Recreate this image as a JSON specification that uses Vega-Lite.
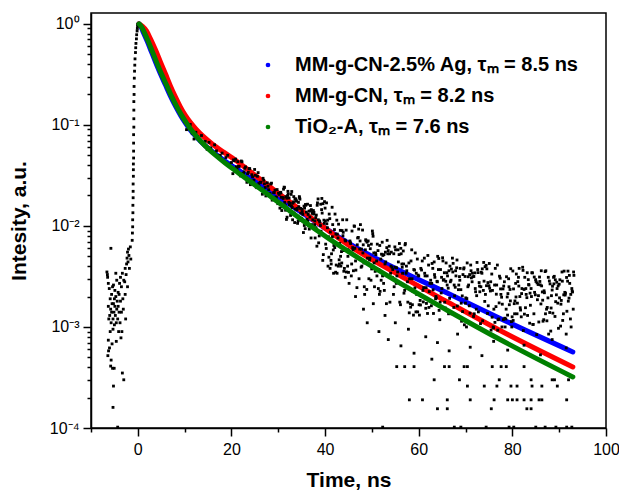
{
"$schema": "https://vega.github.io/schema/vega-lite/v6.json",
"width": 515, "height": 415,
"autosize": {"type": "none"},
"padding": {"left": 91, "top": 13, "right": 13, "bottom": 65},
"background": "white",
"config": {
 "view": {"stroke": "black", "strokeWidth": 1.5},
 "axis": {"domainColor": "black", "domainWidth": 1.5, "tickColor": "black", "tickWidth": 1.5, "labelColor": "black", "titleColor": "black", "labelFont": "Liberation Sans", "labelFontSize": 16, "titleFont": "Liberation Sans", "titleFontSize": 21, "titleFontWeight": "bold", "grid": false, "labelOverlap": false, "labelFlush": false},
 "legend": {"orient": "none", "legendX": 167, "legendY": 42, "padding": 0, "symbolType": "circle", "symbolSize": 22, "labelFont": "Liberation Sans", "labelFontSize": 20, "labelFontWeight": "bold", "labelColor": "black", "rowPadding": 11, "labelOffset": 17, "labelLimit": 500}
},
"datasets": {
 "fits": [
  {"k":"b","t":0.255,"v":1.0},{"k":"b","t":0.681,"v":0.934},{"k":"b","t":1.213,"v":0.815},{"k":"b","t":2.064,"v":0.663},{"k":"b","t":2.915,"v":0.528},{"k":"b","t":3.766,"v":0.4205},{"k":"b","t":4.83,"v":0.32},{"k":"b","t":5.894,"v":0.249},{"k":"b","t":6.957,"v":0.1937},{"k":"b","t":8.021,"v":0.1542},{"k":"b","t":9.085,"v":0.1256},{"k":"b","t":10.149,"v":0.1047},{"k":"b","t":11.213,"v":0.0892},{"k":"b","t":12.489,"v":0.076},{"k":"b","t":14.191,"v":0.0634},{"k":"b","t":16.319,"v":0.0528},{"k":"b","t":18.447,"v":0.0445},{"k":"b","t":20.787,"v":0.0375},{"k":"b","t":23.979,"v":0.0299},{"k":"b","t":27.17,"v":0.0238},{"k":"b","t":30.362,"v":0.0189},{"k":"b","t":36.745,"v":0.012},{"k":"b","t":45.255,"v":0.00663},{"k":"b","t":53.766,"v":0.00406},{"k":"b","t":66.532,"v":0.00212},{"k":"b","t":77.17,"v":0.001228},{"k":"b","t":92.915,"v":0.000566},
  {"k":"r","t":0.255,"v":1.0},{"k":"r","t":1.0,"v":0.944},{"k":"r","t":1.851,"v":0.852},{"k":"r","t":2.702,"v":0.71},{"k":"r","t":3.766,"v":0.553},{"k":"r","t":4.83,"v":0.4205},{"k":"r","t":5.894,"v":0.32},{"k":"r","t":6.957,"v":0.243},{"k":"r","t":8.021,"v":0.1893},{"k":"r","t":9.085,"v":0.1507},{"k":"r","t":10.149,"v":0.1242},{"k":"r","t":11.213,"v":0.1059},{"k":"r","t":12.489,"v":0.0902},{"k":"r","t":13.979,"v":0.0769},{"k":"r","t":15.894,"v":0.0648},{"k":"r","t":18.234,"v":0.054},{"k":"r","t":20.787,"v":0.045},{"k":"r","t":23.979,"v":0.0346},{"k":"r","t":27.17,"v":0.0266},{"k":"r","t":30.362,"v":0.0205},{"k":"r","t":36.745,"v":0.01228},{"k":"r","t":45.255,"v":0.00634},{"k":"r","t":55.894,"v":0.00324},{"k":"r","t":66.532,"v":0.00173},{"k":"r","t":77.17,"v":0.000934},{"k":"r","t":92.915,"v":0.000402},
  {"k":"g","t":0.255,"v":1.0},{"k":"g","t":0.787,"v":0.934},{"k":"g","t":1.426,"v":0.815},{"k":"g","t":2.277,"v":0.663},{"k":"g","t":3.128,"v":0.528},{"k":"g","t":3.979,"v":0.4205},{"k":"g","t":5.043,"v":0.32},{"k":"g","t":6.106,"v":0.249},{"k":"g","t":7.17,"v":0.1937},{"k":"g","t":8.234,"v":0.1542},{"k":"g","t":9.298,"v":0.1256},{"k":"g","t":10.362,"v":0.1047},{"k":"g","t":11.426,"v":0.0892},{"k":"g","t":12.702,"v":0.0752},{"k":"g","t":14.404,"v":0.062},{"k":"g","t":16.532,"v":0.0505},{"k":"g","t":18.66,"v":0.042},{"k":"g","t":20.787,"v":0.0354},{"k":"g","t":23.979,"v":0.0276},{"k":"g","t":27.17,"v":0.0215},{"k":"g","t":30.362,"v":0.0167},{"k":"g","t":36.745,"v":0.0101},{"k":"g","t":45.255,"v":0.00546},{"k":"g","t":55.894,"v":0.00273},{"k":"g","t":66.532,"v":0.001424},{"k":"g","t":77.17,"v":0.00076},{"k":"g","t":92.915,"v":0.00032}
 ],
 "pts": [
  {"t":-1.2,"v":0.0072},{"t":-1.15,"v":0.0085},{"t":-1.1,"v":0.0098},{"t":-1.1,"v":0.0115},{"t":-1.05,"v":0.0135},{"t":-1.05,"v":0.016},{"t":-1.0,"v":0.019},{"t":-1.0,"v":0.022},{"t":-1.0,"v":0.026},{"t":-0.95,"v":0.031},{"t":-0.95,"v":0.036},{"t":-0.95,"v":0.041},{"t":-0.9,"v":0.047},{"t":-0.9,"v":0.055},{"t":-0.9,"v":0.066},{"t":-0.9,"v":0.08},{"t":-0.85,"v":0.095},{"t":-0.85,"v":0.115},{"t":-0.85,"v":0.14},{"t":-0.85,"v":0.17},{"t":-0.8,"v":0.2},{"t":-0.8,"v":0.24},{"t":-0.75,"v":0.29},{"t":-0.7,"v":0.34},{"t":-0.65,"v":0.39},{"t":-0.6,"v":0.45},{"t":-0.5,"v":0.52},{"t":-0.45,"v":0.58},{"t":-0.4,"v":0.64},{"t":-0.3,"v":0.71},{"t":-0.25,"v":0.78},{"t":-0.15,"v":0.85},{"t":-0.1,"v":0.9},{"t":-0.05,"v":0.95},{"t":0.0,"v":0.99},
  {"t":-6.6,"v":0.0035},{"t":-6.5,"v":0.0033},{"t":-6.45,"v":0.0031},{"t":-6.3,"v":0.0027},{"t":-6.3,"v":0.0016},{"t":-6.2,"v":0.0012},{"t":-6.25,"v":0.00058},{"t":-6.1,"v":0.0024},{"t":-6.0,"v":0.0013},{"t":-6.05,"v":0.00062},{"t":-5.9,"v":0.0019},{"t":-5.9,"v":0.0009},{"t":-5.75,"v":0.006},{"t":-5.8,"v":0.0015},{"t":-5.7,"v":0.00047},{"t":-5.7,"v":0.0011},{"t":-5.6,"v":0.0021},{"t":-5.6,"v":0.0014},{"t":-5.5,"v":0.0017},{"t":-5.5,"v":0.00068},{"t":-5.3,"v":0.00016},{"t":-5.4,"v":0.0025},{"t":-5.3,"v":0.00095},{"t":-5.3,"v":0.0012},{"t":-5.2,"v":0.0017},{"t":-5.2,"v":0.0026},{"t":-5.1,"v":0.0014},{"t":-5.05,"v":0.00039},{"t":-5.0,"v":0.0019},{"t":-5.0,"v":0.00105},{"t":-4.9,"v":0.0023},{"t":-4.9,"v":0.0016},{"t":-4.8,"v":0.0013},{"t":-4.3,"v":0.000102},{"t":-4.7,"v":0.0034},{"t":-4.7,"v":0.002},{"t":-4.6,"v":0.0011},{"t":-4.6,"v":0.00072},{"t":-4.5,"v":0.0015},{"t":-4.5,"v":0.0029},{"t":-4.4,"v":0.0018},{"t":-4.3,"v":0.0012},{"t":-5.2,"v":0.00026},{"t":-4.2,"v":0.0022},{"t":-4.2,"v":0.0016},{"t":-4.1,"v":0.0009},{"t":-4.0,"v":0.0021},{"t":-4.0,"v":0.0014},{"t":-3.9,"v":0.0027},{"t":-3.8,"v":0.0011},{"t":-3.7,"v":0.0031},{"t":-3.7,"v":0.0018},{"t":-3.6,"v":0.00078},{"t":-3.5,"v":0.0025},{"t":-3.5,"v":0.0014},{"t":-3.4,"v":0.0009},{"t":-3.3,"v":0.0034},{"t":-3.2,"v":0.0019},{"t":-3.1,"v":0.0015},{"t":-3.0,"v":0.0029},{"t":-3.3,"v":0.00035},{"t":-3.0,"v":0.0003},{"t":-2.8,"v":0.0028},{"t":-2.7,"v":0.0038},{"t":-2.7,"v":0.0021},{"t":-2.6,"v":0.0012},{"t":-2.5,"v":0.0033},{"t":-2.4,"v":0.0042},{"t":-2.3,"v":0.0048},{"t":-2.2,"v":0.0025},{"t":-2.2,"v":0.0055},{"t":-2.1,"v":0.0044},{"t":-2.0,"v":0.0059},{"t":-1.9,"v":0.0051},{"t":-1.8,"v":0.0038},{"t":-1.6,"v":0.0062},{"t":-1.5,"v":0.0047},{"t":-6.4,"v":0.00052},{"t":-6.3,"v":0.00074},{"t":-5.8,"v":0.00041},{"t":-5.4,"v":0.00039},
  {"t":0.1,"v":0.99},{"t":0.3,"v":1.0},{"t":0.5,"v":0.98},{"t":0.8,"v":0.935},{"t":1.1,"v":0.875},{"t":1.4,"v":0.815},{"t":1.7,"v":0.76},{"t":2.0,"v":0.71},{"t":2.4,"v":0.65},{"t":2.8,"v":0.575},{"t":3.2,"v":0.515},{"t":3.6,"v":0.465},{"t":4.0,"v":0.42},{"t":4.4,"v":0.38},{"t":4.8,"v":0.34},{"t":5.2,"v":0.305},{"t":5.6,"v":0.28},{"t":6.0,"v":0.255},{"t":6.5,"v":0.227},{"t":7.0,"v":0.203},{"t":7.5,"v":0.182},{"t":8.0,"v":0.162},{"t":8.5,"v":0.147},{"t":9.0,"v":0.133},{"t":9.5,"v":0.122},
  {"t":10.0,"v":0.1074},{"t":10.4,"v":0.0897},{"t":10.8,"v":0.0946},{"t":11.2,"v":0.1009},{"t":11.6,"v":0.0828},{"t":12.0,"v":0.0724},{"t":12.4,"v":0.0845},{"t":12.8,"v":0.0769},{"t":13.2,"v":0.0697},{"t":13.6,"v":0.0785},{"t":14.0,"v":0.0673},{"t":14.4,"v":0.0687},{"t":14.8,"v":0.0573},{"t":15.2,"v":0.0671},{"t":15.6,"v":0.0592},{"t":16.0,"v":0.0533},{"t":16.4,"v":0.0635},{"t":16.8,"v":0.0553},{"t":17.2,"v":0.0499},{"t":17.6,"v":0.05},{"t":18.0,"v":0.0526},{"t":18.4,"v":0.0432},{"t":18.8,"v":0.0475},{"t":19.2,"v":0.05},{"t":19.6,"v":0.0408},{"t":20.0,"v":0.0424},
  {"t":20.3,"v":0.0329},{"t":20.6,"v":0.0442},{"t":20.9,"v":0.0459},{"t":21.2,"v":0.0368},{"t":21.5,"v":0.0389},{"t":21.8,"v":0.0321},{"t":22.1,"v":0.0439},{"t":22.4,"v":0.0329},{"t":22.7,"v":0.0343},{"t":23.0,"v":0.0384},{"t":23.3,"v":0.027},{"t":23.6,"v":0.034},{"t":23.9,"v":0.0369},{"t":24.2,"v":0.0275},{"t":24.5,"v":0.0306},{"t":24.8,"v":0.0283},{"t":25.1,"v":0.0317},{"t":25.4,"v":0.0239},{"t":25.7,"v":0.0337},{"t":26.0,"v":0.0243},{"t":26.3,"v":0.0271},{"t":26.6,"v":0.0206},{"t":26.9,"v":0.0283},{"t":27.2,"v":0.024},{"t":27.5,"v":0.0208},{"t":27.8,"v":0.0247},{"t":28.1,"v":0.0209},{"t":28.4,"v":0.026},{"t":28.7,"v":0.018},{"t":29.0,"v":0.0213},{"t":29.3,"v":0.0226},{"t":29.6,"v":0.0192},{"t":29.9,"v":0.0166},{"t":30.2,"v":0.0205},
  {"t":20.45,"v":0.045},{"t":20.75,"v":0.0348},{"t":21.05,"v":0.0385},{"t":21.35,"v":0.0433},{"t":21.65,"v":0.0387},{"t":21.95,"v":0.0312},{"t":22.25,"v":0.0431},{"t":22.55,"v":0.0331},{"t":22.85,"v":0.0372},{"t":23.15,"v":0.0299},{"t":23.45,"v":0.0329},{"t":23.75,"v":0.0369},{"t":24.05,"v":0.0256},{"t":24.35,"v":0.0321},{"t":24.65,"v":0.0275},{"t":24.95,"v":0.0362},{"t":25.25,"v":0.0244},{"t":25.55,"v":0.031},{"t":25.85,"v":0.0263},{"t":26.15,"v":0.027},{"t":26.45,"v":0.0232},{"t":26.75,"v":0.0296},{"t":27.05,"v":0.0261},{"t":27.35,"v":0.0198},{"t":27.65,"v":0.0267},{"t":27.95,"v":0.0228},{"t":28.25,"v":0.0208},{"t":28.55,"v":0.0265},{"t":28.85,"v":0.0185},{"t":29.15,"v":0.0214},{"t":29.45,"v":0.0193},{"t":29.75,"v":0.0229},{"t":30.05,"v":0.0211},{"t":30.35,"v":0.015},
  {"t":30.5,"v":0.0215},{"t":30.75,"v":0.0142},{"t":31.0,"v":0.0191},{"t":31.25,"v":0.0242},{"t":31.5,"v":0.0159},{"t":31.75,"v":0.0116},{"t":32.0,"v":0.02},{"t":32.25,"v":0.0171},{"t":32.5,"v":0.0138},{"t":32.75,"v":0.0205},{"t":33.0,"v":0.0152},{"t":33.25,"v":0.0173},{"t":33.5,"v":0.0108},{"t":33.75,"v":0.0185},{"t":34.0,"v":0.0144},{"t":34.25,"v":0.0112},{"t":34.5,"v":0.0195},{"t":34.75,"v":0.0149},{"t":35.0,"v":0.0119},{"t":35.25,"v":0.013},{"t":35.5,"v":0.0157},{"t":35.75,"v":0.0094},{"t":36.0,"v":0.0137},{"t":36.25,"v":0.0164},{"t":36.5,"v":0.01},{"t":36.75,"v":0.01225},{"t":37.0,"v":0.0076},{"t":37.25,"v":0.0133},{"t":37.5,"v":0.0142},{"t":37.75,"v":0.0103},{"t":38.0,"v":0.0121},{"t":38.25,"v":0.0063},{"t":38.5,"v":0.0185},{"t":38.75,"v":0.00796},{"t":39.0,"v":0.0101},{"t":39.25,"v":0.0145},{"t":39.5,"v":0.00456},{"t":39.75,"v":0.0114},{"t":40.0,"v":0.015},{"t":40.25,"v":0.00598},{"t":40.5,"v":0.0096},{"t":40.75,"v":0.0078},{"t":41.0,"v":0.0118},{"t":41.25,"v":0.00456},{"t":41.5,"v":0.0153},{"t":41.75,"v":0.00578},{"t":42.0,"v":0.0092},{"t":42.25,"v":0.00348},{"t":42.5,"v":0.0114},{"t":42.75,"v":0.0076},{"t":43.0,"v":0.00462},{"t":43.25,"v":0.00904},{"t":43.5,"v":0.00557},{"t":43.75,"v":0.0115},{"t":44.0,"v":0.00356},{"t":44.25,"v":0.00725},{"t":44.5,"v":0.00908},{"t":44.75,"v":0.00586},{"t":45.0,"v":0.00347},
  {"t":30.625,"v":0.0192},{"t":30.875,"v":0.0155},{"t":31.125,"v":0.0231},{"t":31.375,"v":0.0171},{"t":31.625,"v":0.0195},{"t":31.875,"v":0.0122},{"t":32.125,"v":0.0208},{"t":32.375,"v":0.0162},{"t":32.625,"v":0.0127},{"t":32.875,"v":0.0219},{"t":33.125,"v":0.0168},{"t":33.375,"v":0.0134},{"t":33.625,"v":0.0147},{"t":33.875,"v":0.0177},{"t":34.125,"v":0.0106},{"t":34.375,"v":0.0155},{"t":34.625,"v":0.0184},{"t":34.875,"v":0.0113},{"t":35.125,"v":0.0138},{"t":35.375,"v":0.0086},{"t":35.625,"v":0.015},{"t":35.875,"v":0.016},{"t":36.125,"v":0.0116},{"t":36.375,"v":0.013},{"t":36.625,"v":0.0093},{"t":36.875,"v":0.0159},{"t":37.125,"v":0.0103},{"t":37.375,"v":0.0115},{"t":37.625,"v":0.0136},{"t":37.875,"v":0.0076},{"t":38.125,"v":0.0128},{"t":38.375,"v":0.0169},{"t":38.625,"v":0.0068},{"t":38.875,"v":0.0109},{"t":39.125,"v":0.00886},{"t":39.375,"v":0.0134},{"t":39.625,"v":0.0052},{"t":39.875,"v":0.0174},{"t":40.125,"v":0.0066},{"t":40.375,"v":0.0105},{"t":40.625,"v":0.004},{"t":40.875,"v":0.0131},{"t":41.125,"v":0.0087},{"t":41.375,"v":0.0053},{"t":41.625,"v":0.0103},{"t":41.875,"v":0.0064},{"t":42.125,"v":0.0131},{"t":42.375,"v":0.0041},{"t":42.625,"v":0.0083},{"t":42.875,"v":0.0104},{"t":43.125,"v":0.0067},{"t":43.375,"v":0.004},{"t":43.625,"v":0.009},{"t":43.875,"v":0.00865},{"t":44.125,"v":0.0038},{"t":44.375,"v":0.0071},{"t":44.625,"v":0.0115},{"t":44.875,"v":0.005},{"t":45.125,"v":0.0027},
  {"t":30.56,"v":0.0212},{"t":30.81,"v":0.0162},{"t":31.06,"v":0.0187},{"t":31.31,"v":0.024},{"t":31.56,"v":0.0143},{"t":31.81,"v":0.0188},{"t":32.06,"v":0.022},{"t":32.31,"v":0.0189},{"t":32.56,"v":0.0168},{"t":32.81,"v":0.0158},{"t":33.06,"v":0.0115},{"t":33.31,"v":0.0195},{"t":33.56,"v":0.0185},{"t":33.81,"v":0.0176},{"t":34.06,"v":0.0149},{"t":34.31,"v":0.0171},{"t":34.56,"v":0.019},{"t":34.81,"v":0.0134},{"t":35.06,"v":0.0146},{"t":35.31,"v":0.011},{"t":35.56,"v":0.0101},{"t":35.81,"v":0.0163},{"t":36.06,"v":0.0108},{"t":36.31,"v":0.0111},{"t":36.56,"v":0.014},{"t":36.81,"v":0.0141},{"t":37.06,"v":0.0145},{"t":37.31,"v":0.0138},{"t":37.56,"v":0.0131},{"t":37.81,"v":0.0112},{"t":38.06,"v":0.0096},{"t":38.31,"v":0.016},{"t":38.56,"v":0.0115},{"t":38.81,"v":0.0112},{"t":39.06,"v":0.0164},{"t":39.31,"v":0.0187},{"t":39.56,"v":0.0166},{"t":39.81,"v":0.0106},{"t":40.06,"v":0.0112},{"t":40.31,"v":0.0169},{"t":40.56,"v":0.0114},{"t":40.81,"v":0.0049},{"t":41.06,"v":0.0038},{"t":41.31,"v":0.0042},{"t":41.56,"v":0.0078},{"t":41.81,"v":0.0034},{"t":42.06,"v":0.0061},{"t":42.31,"v":0.0083},{"t":42.56,"v":0.0034},{"t":42.81,"v":0.004},{"t":43.06,"v":0.0042},{"t":43.31,"v":0.005},{"t":43.56,"v":0.0043},{"t":43.81,"v":0.008},{"t":44.06,"v":0.0057},{"t":44.31,"v":0.0031},{"t":44.56,"v":0.0035},{"t":44.81,"v":0.004},{"t":45.06,"v":0.0057},
  {"t":45.3,"v":7.1e-3},{"t":45.6,"v":3.2e-3},{"t":45.9,"v":6.1e-3},{"t":46.2,"v":1.0e-2},{"t":46.5,"v":4.5e-3},{"t":46.8,"v":2.45e-3},{"t":47.1,"v":7.7e-3},{"t":47.4,"v":5.9e-3},{"t":47.7,"v":3.9e-3},{"t":48.0,"v":9.1e-3},
  {"t":45.45,"v":6.7e-3},{"t":45.75,"v":8.9e-3},{"t":46.05,"v":3.6e-3},{"t":46.35,"v":6.0e-3},{"t":46.65,"v":5.0e-3},{"t":46.95,"v":7.6e-3},{"t":47.25,"v":3.0e-3},{"t":47.55,"v":1.03e-2},{"t":47.85,"v":4.0e-3},{"t":48.15,"v":6.5e-3},
  {"t":48.3,"v":4.3e-3},{"t":48.6,"v":5.8e-3},{"t":48.9,"v":2.35e-3},{"t":49.2,"v":7.1e-3},{"t":49.5,"v":4.6e-3},{"t":49.8,"v":2.9e-3},{"t":50.1,"v":8.9e-3},{"t":50.4,"v":5.4e-3},{"t":50.7,"v":3.55e-3},{"t":51.0,"v":4.5e-3},
  {"t":48.45,"v":2.1e-3},{"t":48.75,"v":7.1e-3},{"t":49.05,"v":4.8e-3},{"t":49.35,"v":3.0e-3},{"t":49.65,"v":5.95e-3},{"t":49.95,"v":3.75e-3},{"t":50.25,"v":7.9e-3},{"t":50.55,"v":2.5e-3},{"t":50.85,"v":5.2e-3},{"t":51.15,"v":6.6e-3},
  {"t":51.3,"v":5.7e-3},{"t":51.6,"v":2.1e-3},{"t":51.9,"v":4.7e-3},{"t":52.2,"v":6.9e-3},{"t":52.5,"v":2.7e-3},{"t":52.8,"v":4.2e-3},{"t":53.1,"v":1.7e-3},{"t":53.4,"v":5.3e-3},{"t":53.7,"v":6.3e-3},{"t":54.0,"v":3.4e-3},
  {"t":51.45,"v":3.7e-3},{"t":51.75,"v":2.25e-3},{"t":52.05,"v":5.25e-3},{"t":52.35,"v":5.1e-3},{"t":52.65,"v":2.3e-3},{"t":52.95,"v":4.4e-3},{"t":53.25,"v":7.2e-3},{"t":53.55,"v":3.2e-3},{"t":53.85,"v":1.76e-3},{"t":54.15,"v":5.5e-3},
  {"t":54.3,"v":3.9e-3},{"t":54.6,"v":2.1e-3},{"t":54.9,"v":6.2e-3},{"t":55.2,"v":2.7e-3},{"t":55.5,"v":3.5e-3},{"t":55.8,"v":5.2e-3},{"t":56.1,"v":1.66e-3},{"t":56.4,"v":4.2e-3},{"t":56.7,"v":5.65e-3},{"t":57.0,"v":2.3e-3},
  {"t":54.45,"v":3.7e-3},{"t":54.75,"v":2.5e-3},{"t":55.05,"v":5.8e-3},{"t":55.35,"v":3.2e-3},{"t":55.65,"v":4.4e-3},{"t":55.95,"v":1.76e-3},{"t":56.25,"v":5.3e-3},{"t":56.55,"v":3.4e-3},{"t":56.85,"v":2.16e-3},{"t":57.15,"v":6.7e-3},
  {"t":57.3,"v":3.4e-3},{"t":57.6,"v":2.8e-3},{"t":57.9,"v":4.3e-3},{"t":58.2,"v":1.7e-3},{"t":58.5,"v":5.8e-3},{"t":58.8,"v":2.24e-3},{"t":59.1,"v":3.65e-3},{"t":59.4,"v":1.41e-3},{"t":59.7,"v":4.7e-3},{"t":60.0,"v":3.2e-3},
  {"t":57.45,"v":3.6e-3},{"t":57.75,"v":2.4e-3},{"t":58.05,"v":3.0e-3},{"t":58.35,"v":4.5e-3},{"t":58.65,"v":1.66e-3},{"t":58.95,"v":3.7e-3},{"t":59.25,"v":5.4e-3},{"t":59.55,"v":2.1e-3},{"t":59.85,"v":3.26e-3},{"t":60.15,"v":1.31e-3},
  {"t":60.3,"v":1.83e-3},{"t":60.6,"v":3.66e-3},{"t":60.9,"v":2.3e-3},{"t":61.2,"v":4.8e-3},{"t":61.5,"v":1.53e-3},{"t":61.8,"v":3.2e-3},{"t":62.1,"v":4.1e-3},{"t":62.4,"v":2.7e-3},{"t":62.7,"v":1.62e-3},{"t":63.0,"v":3.8e-3},
  {"t":60.45,"v":3.8e-3},{"t":60.75,"v":4.5e-3},{"t":61.05,"v":2.45e-3},{"t":61.35,"v":3.2e-3},{"t":61.65,"v":1.71e-3},{"t":61.95,"v":5.1e-3},{"t":62.25,"v":2.24e-3},{"t":62.55,"v":2.9e-3},{"t":62.85,"v":4.25e-3},{"t":63.15,"v":1.36e-3},
  {"t":63.3,"v":4.4e-3},{"t":63.6,"v":1.9e-3},{"t":63.9,"v":2.83e-3},{"t":64.2,"v":3.7e-3},{"t":64.5,"v":1.18e-3},{"t":64.8,"v":2.17e-3},{"t":65.1,"v":4.84e-3},{"t":65.4,"v":2.94e-3},{"t":65.7,"v":1.54e-3},{"t":66.0,"v":3.44e-3},
  {"t":63.45,"v":3.1e-3},{"t":63.75,"v":1.93e-3},{"t":64.05,"v":5.0e-3},{"t":64.35,"v":1.46e-3},{"t":64.65,"v":3.7e-3},{"t":64.95,"v":2.4e-3},{"t":65.25,"v":2.9e-3},{"t":65.55,"v":1.76e-3},{"t":65.85,"v":4.3e-3},{"t":66.15,"v":3.2e-3},
  {"t":66.3,"v":2.42e-3},{"t":66.6,"v":1.92e-3},{"t":66.9,"v":2.9e-3},{"t":67.2,"v":4.8e-3},{"t":67.5,"v":1.56e-3},{"t":67.8,"v":2.47e-3},{"t":68.1,"v":3.85e-3},{"t":68.4,"v":1.27e-3},{"t":68.7,"v":3.15e-3},{"t":69.0,"v":2.34e-3},
  {"t":66.45,"v":3.6e-3},{"t":66.75,"v":2.8e-3},{"t":67.05,"v":1.35e-3},{"t":67.35,"v":4.26e-3},{"t":67.65,"v":2.03e-3},{"t":67.95,"v":3.2e-3},{"t":68.25,"v":1.61e-3},{"t":68.55,"v":2.6e-3},{"t":68.85,"v":3.8e-3},{"t":69.15,"v":1.14e-3},
  {"t":69.3,"v":2.03e-3},{"t":69.6,"v":3.75e-3},{"t":69.9,"v":3.16e-3},{"t":70.2,"v":1.0e-3},{"t":70.5,"v":2.5e-3},{"t":70.8,"v":1.62e-3},{"t":71.1,"v":4.1e-3},{"t":71.4,"v":2.8e-3},{"t":71.7,"v":1.27e-3},{"t":72.0,"v":3.43e-3},
  {"t":69.45,"v":3.3e-3},{"t":69.75,"v":1.05e-3},{"t":70.05,"v":1.94e-3},{"t":70.35,"v":4.3e-3},{"t":70.65,"v":2.6e-3},{"t":70.95,"v":1.37e-3},{"t":71.25,"v":3.06e-3},{"t":71.55,"v":3.14e-3},{"t":71.85,"v":1.35e-3},{"t":72.15,"v":2.23e-3},
  {"t":72.3,"v":1.5e-3},{"t":72.6,"v":3.7e-3},{"t":72.9,"v":2.75e-3},{"t":73.2,"v":1.08e-3},{"t":73.5,"v":3.4e-3},{"t":73.8,"v":2.3e-3},{"t":74.1,"v":1.79e-3},{"t":74.4,"v":4.07e-3},{"t":74.7,"v":1.36e-3},{"t":75.0,"v":2.56e-3},
  {"t":72.45,"v":4.35e-3},{"t":72.75,"v":1.41e-3},{"t":73.05,"v":2.23e-3},{"t":73.35,"v":3.48e-3},{"t":73.65,"v":1.15e-3},{"t":73.95,"v":2.84e-3},{"t":74.25,"v":2.1e-3},{"t":74.55,"v":3.76e-3},{"t":74.85,"v":1.62e-3},{"t":75.15,"v":2.42e-3},
  {"t":75.3,"v":2.27e-3},{"t":75.6,"v":3.34e-3},{"t":75.9,"v":1.0e-3},{"t":76.2,"v":2.6e-3},{"t":76.5,"v":1.59e-3},{"t":76.8,"v":4.1e-3},{"t":77.1,"v":1.2e-3},{"t":77.4,"v":3.04e-3},{"t":77.7,"v":1.97e-3},{"t":78.0,"v":2.38e-3},
  {"t":75.45,"v":9.3e-4},{"t":75.75,"v":2.3e-3},{"t":76.05,"v":1.5e-3},{"t":76.35,"v":3.8e-3},{"t":76.65,"v":2.6e-3},{"t":76.95,"v":1.18e-3},{"t":77.25,"v":3.18e-3},{"t":77.55,"v":2.1e-3},{"t":77.85,"v":1.68e-3},{"t":78.15,"v":2.54e-3},
  {"t":78.3,"v":2.8e-3},{"t":78.6,"v":1.2e-3},{"t":78.9,"v":1.98e-3},{"t":79.2,"v":3.0e-3},{"t":79.5,"v":2.35e-3},{"t":79.8,"v":1.13e-3},{"t":80.1,"v":3.58e-3},{"t":80.4,"v":1.7e-3},{"t":80.7,"v":2.7e-3},{"t":81.0,"v":1.35e-3},
  {"t":78.45,"v":1.0e-3},{"t":78.75,"v":3.14e-3},{"t":79.05,"v":2.14e-3},{"t":79.35,"v":1.66e-3},{"t":79.65,"v":3.77e-3},{"t":79.95,"v":1.26e-3},{"t":80.25,"v":2.38e-3},{"t":80.55,"v":1.81e-3},{"t":80.85,"v":3.34e-3},{"t":81.15,"v":2.81e-3},
  {"t":81.3,"v":3.1e-3},{"t":81.6,"v":2.0e-3},{"t":81.9,"v":1.26e-3},{"t":82.2,"v":3.9e-3},{"t":82.5,"v":2.35e-3},{"t":82.8,"v":1.55e-3},{"t":83.1,"v":1.95e-3},{"t":83.4,"v":2.94e-3},{"t":83.7,"v":1.09e-3},{"t":84.0,"v":2.4e-3},
  {"t":81.45,"v":3.8e-3},{"t":81.75,"v":1.47e-3},{"t":82.05,"v":2.4e-3},{"t":82.35,"v":9.2e-4},{"t":82.65,"v":3.1e-3},{"t":82.95,"v":2.1e-3},{"t":83.25,"v":1.3e-3},{"t":83.55,"v":2.6e-3},{"t":83.85,"v":1.64e-3},{"t":84.15,"v":3.44e-3},
  {"t":84.3,"v":3.43e-3},{"t":84.6,"v":1.35e-3},{"t":84.9,"v":2.08e-3},{"t":85.2,"v":8.4e-4},{"t":85.5,"v":2.63e-3},{"t":85.8,"v":3.12e-3},{"t":86.1,"v":1.69e-3},{"t":86.4,"v":2.22e-3},{"t":86.7,"v":1.18e-3},{"t":87.0,"v":3.53e-3},
  {"t":84.45,"v":1.06e-3},{"t":84.75,"v":2.2e-3},{"t":85.05,"v":2.82e-3},{"t":85.35,"v":1.86e-3},{"t":85.65,"v":1.12e-3},{"t":85.95,"v":2.61e-3},{"t":86.25,"v":2.55e-3},{"t":86.55,"v":1.14e-3},{"t":86.85,"v":2.18e-3},{"t":87.15,"v":3.6e-3},
  {"t":87.3,"v":1.5e-3},{"t":87.6,"v":1.94e-3},{"t":87.9,"v":2.85e-3},{"t":88.2,"v":9.1e-4},{"t":88.5,"v":2.32e-3},{"t":88.8,"v":3.1e-3},{"t":89.1,"v":1.27e-3},{"t":89.4,"v":2.08e-3},{"t":89.7,"v":1.72e-3},{"t":90.0,"v":2.65e-3},
  {"t":87.45,"v":1.56e-3},{"t":87.75,"v":8.5e-4},{"t":88.05,"v":2.67e-3},{"t":88.35,"v":2.04e-3},{"t":88.65,"v":1.37e-3},{"t":88.95,"v":3.17e-3},{"t":89.25,"v":1.78e-3},{"t":89.55,"v":2.4e-3},{"t":89.85,"v":9.7e-4},{"t":90.15,"v":2.93e-3},
  {"t":90.3,"v":1.02e-3},{"t":90.6,"v":3.5e-3},{"t":90.9,"v":1.35e-3},{"t":91.2,"v":2.2e-3},{"t":91.5,"v":8.5e-4},{"t":91.8,"v":2.84e-3},{"t":92.1,"v":1.93e-3},{"t":92.4,"v":1.2e-3},{"t":92.7,"v":2.4e-3},{"t":93.0,"v":1.5e-3},
  {"t":90.45,"v":1.83e-3},{"t":90.75,"v":1.16e-3},{"t":91.05,"v":3.57e-3},{"t":91.35,"v":2.16e-3},{"t":91.65,"v":1.43e-3},{"t":91.95,"v":1.8e-3},{"t":92.25,"v":2.7e-3},{"t":92.55,"v":1.0e-3},{"t":92.85,"v":2.22e-3},{"t":93.15,"v":3.24e-3},
  {"t":45.375,"v":6.9e-3},{"t":45.675,"v":4.2e-3},{"t":45.975,"v":5.8e-3},{"t":46.275,"v":9.9e-3},{"t":46.575,"v":3.65e-3},{"t":46.875,"v":6.5e-3},{"t":47.175,"v":9.3e-3},{"t":47.475,"v":7.1e-3},{"t":47.775,"v":5.9e-3},{"t":48.075,"v":5.4e-3},
  {"t":48.375,"v":2.5e-3},{"t":48.675,"v":7.3e-3},{"t":48.975,"v":6.9e-3},{"t":49.275,"v":6.4e-3},{"t":49.575,"v":4.8e-3},{"t":49.875,"v":6.6e-3},{"t":50.175,"v":8.4e-3},{"t":50.475,"v":4.3e-3},{"t":50.775,"v":5.4e-3},{"t":51.075,"v":3.2e-3},
  {"t":51.375,"v":2.4e-3},{"t":51.675,"v":6.4e-3},{"t":51.975,"v":2.9e-3},{"t":52.275,"v":3.2e-3},{"t":52.575,"v":5.2e-3},{"t":52.875,"v":5.5e-3},{"t":53.175,"v":6.1e-3},{"t":53.475,"v":5.7e-3},{"t":53.775,"v":5.3e-3},{"t":54.075,"v":4.0e-3},
  {"t":54.375,"v":3.1e-3},{"t":54.675,"v":5.3e-3},{"t":54.975,"v":3.9e-3},{"t":55.275,"v":3.85e-3},{"t":55.575,"v":5.8e-3},{"t":55.875,"v":6.7e-3},{"t":56.175,"v":6.0e-3},{"t":56.475,"v":3.9e-3},{"t":56.775,"v":4.2e-3},{"t":57.075,"v":6.5e-3},
  {"t":57.375,"v":4.0e-3},{"t":57.675,"v":1.76e-3},{"t":57.975,"v":1.38e-3},{"t":58.275,"v":1.57e-3},{"t":58.575,"v":3.0e-3},{"t":58.875,"v":1.31e-3},{"t":59.175,"v":2.43e-3},{"t":59.475,"v":3.4e-3},{"t":59.775,"v":1.41e-3},{"t":60.075,"v":1.66e-3},
  {"t":60.375,"v":1.65e-3},{"t":60.675,"v":2.0e-3},{"t":60.975,"v":1.77e-3},{"t":61.275,"v":3.4e-3},{"t":61.575,"v":2.45e-3},{"t":61.875,"v":1.36e-3},{"t":62.175,"v":1.56e-3},{"t":62.475,"v":1.83e-3},{"t":62.775,"v":2.7e-3},{"t":63.075,"v":2.33e-3},
  {"t":63.375,"v":3.3e-3},{"t":63.675,"v":2.0e-3},{"t":63.975,"v":2.8e-3},{"t":64.275,"v":4.76e-3},{"t":64.575,"v":1.76e-3},{"t":64.875,"v":3.1e-3},{"t":65.175,"v":4.5e-3},{"t":65.475,"v":3.44e-3},{"t":65.775,"v":2.83e-3},{"t":66.075,"v":2.6e-3},
  {"t":66.375,"v":1.35e-3},{"t":66.675,"v":4.0e-3},{"t":66.975,"v":3.74e-3},{"t":67.275,"v":3.5e-3},{"t":67.575,"v":2.6e-3},{"t":67.875,"v":3.6e-3},{"t":68.175,"v":4.6e-3},{"t":68.475,"v":2.34e-3},{"t":68.775,"v":2.9e-3},{"t":69.075,"v":1.72e-3},
  {"t":69.375,"v":1.42e-3},{"t":69.675,"v":3.85e-3},{"t":69.975,"v":1.72e-3},{"t":70.275,"v":1.91e-3},{"t":70.575,"v":3.14e-3},{"t":70.875,"v":3.3e-3},{"t":71.175,"v":3.6e-3},{"t":71.475,"v":3.4e-3},{"t":71.775,"v":3.16e-3},{"t":72.075,"v":2.4e-3},
  {"t":72.375,"v":2.04e-3},{"t":72.675,"v":3.45e-3},{"t":72.975,"v":2.54e-3},{"t":73.275,"v":2.5e-3},{"t":73.575,"v":3.76e-3},{"t":73.875,"v":4.35e-3},{"t":74.175,"v":3.95e-3},{"t":74.475,"v":2.56e-3},{"t":74.775,"v":2.75e-3},{"t":75.075,"v":4.25e-3},
  {"t":75.375,"v":2.8e-3},{"t":75.675,"v":1.25e-3},{"t":75.975,"v":9.8e-4},{"t":76.275,"v":1.11e-3},{"t":76.575,"v":2.11e-3},{"t":76.875,"v":9.3e-4},{"t":77.175,"v":1.73e-3},{"t":77.475,"v":2.38e-3},{"t":77.775,"v":1.0e-3},{"t":78.075,"v":1.18e-3},
  {"t":78.375,"v":1.22e-3},{"t":78.675,"v":1.5e-3},{"t":78.975,"v":1.31e-3},{"t":79.275,"v":2.5e-3},{"t":79.575,"v":1.81e-3},{"t":79.875,"v":1.0e-3},{"t":80.175,"v":1.16e-3},{"t":80.475,"v":1.35e-3},{"t":80.775,"v":1.98e-3},{"t":81.075,"v":1.72e-3},
  {"t":81.375,"v":2.54e-3},{"t":81.675,"v":1.55e-3},{"t":81.975,"v":2.14e-3},{"t":82.275,"v":3.63e-3},{"t":82.575,"v":1.34e-3},{"t":82.875,"v":2.4e-3},{"t":83.175,"v":3.44e-3},{"t":83.475,"v":2.63e-3},{"t":83.775,"v":2.16e-3},{"t":84.075,"v":2.0e-3},
  {"t":84.375,"v":1.06e-3},{"t":84.675,"v":3.12e-3},{"t":84.975,"v":2.94e-3},{"t":85.275,"v":2.73e-3},{"t":85.575,"v":2.04e-3},{"t":85.875,"v":2.82e-3},{"t":86.175,"v":3.6e-3},{"t":86.475,"v":1.84e-3},{"t":86.775,"v":2.28e-3},{"t":87.075,"v":1.35e-3},
  {"t":87.375,"v":1.15e-3},{"t":87.675,"v":3.1e-3},{"t":87.975,"v":1.39e-3},{"t":88.275,"v":1.54e-3},{"t":88.575,"v":2.53e-3},{"t":88.875,"v":2.67e-3},{"t":89.175,"v":2.93e-3},{"t":89.475,"v":2.77e-3},{"t":89.775,"v":2.55e-3},{"t":90.075,"v":1.94e-3},
  {"t":90.375,"v":1.68e-3},{"t":90.675,"v":2.84e-3},{"t":90.975,"v":2.08e-3},{"t":91.275,"v":2.07e-3},{"t":91.575,"v":3.09e-3},{"t":91.875,"v":3.57e-3},{"t":92.175,"v":3.24e-3},{"t":92.475,"v":2.1e-3},{"t":92.775,"v":2.26e-3},{"t":93.075,"v":3.5e-3},
  {"t":46.5,"v":2.0e-3},{"t":48.2,"v":1.5e-3},{"t":49.0,"v":1.1e-3},{"t":50.3,"v":1.7e-3},{"t":51.5,"v":9e-4},{"t":52.8,"v":1.3e-3},{"t":53.5,"v":7.5e-4},{"t":55.0,"v":1.1e-3},{"t":56.2,"v":6.5e-4},{"t":57.8,"v":9.5e-4},{"t":59.0,"v":5.5e-4},{"t":61.5,"v":8e-4},{"t":62.8,"v":4.8e-4},{"t":64.0,"v":7e-4},{"t":66.5,"v":5.8e-4},{"t":68.3,"v":8.5e-4},{"t":71.0,"v":6.3e-4},{"t":73.5,"v":5.2e-4},{"t":76.0,"v":7.2e-4},{"t":79.0,"v":5.9e-4},{"t":82.5,"v":6.6e-4},{"t":86.0,"v":5.3e-4},{"t":88.5,"v":7.5e-4},{"t":91.5,"v":6.2e-4},
  {"t":55.3,"v":4.05e-4},{"t":57.0,"v":4.05e-4},{"t":59.0,"v":4.05e-4},{"t":65.5,"v":4.05e-4},{"t":66.5,"v":4.05e-4},{"t":69.7,"v":4.05e-4},{"t":70.4,"v":4.05e-4},{"t":75.7,"v":4.05e-4},{"t":77.6,"v":4.05e-4},{"t":78.7,"v":4.05e-4},{"t":82.5,"v":4.05e-4},
  {"t":63.3,"v":3.0e-4},{"t":68.7,"v":3.0e-4},{"t":77.2,"v":3.0e-4},{"t":84.0,"v":3.0e-4},{"t":88.5,"v":3.0e-4},{"t":89.0,"v":3.0e-4},{"t":92.0,"v":3.0e-4},
  {"t":70.4,"v":2.6e-4},{"t":74.0,"v":2.6e-4},{"t":76.7,"v":2.6e-4},{"t":79.7,"v":2.6e-4},{"t":81.0,"v":2.6e-4},{"t":84.2,"v":2.6e-4},{"t":86.3,"v":2.6e-4},{"t":89.6,"v":2.6e-4},
  {"t":58.0,"v":1.9e-4},{"t":60.8,"v":1.9e-4},{"t":66.1,"v":1.9e-4},{"t":71.0,"v":1.9e-4},{"t":76.1,"v":1.9e-4},{"t":79.0,"v":1.9e-4},{"t":80.0,"v":1.9e-4},{"t":81.0,"v":1.9e-4},{"t":82.5,"v":1.9e-4},{"t":84.0,"v":1.9e-4},{"t":85.7,"v":1.9e-4},{"t":86.3,"v":1.9e-4},{"t":91.6,"v":1.9e-4},
  {"t":64.0,"v":1.55e-4},{"t":66.1,"v":1.55e-4},{"t":75.5,"v":1.55e-4},{"t":83.1,"v":1.55e-4},{"t":84.0,"v":1.55e-4},
  {"t":52.3,"v":1.02e-4},{"t":67.6,"v":1.02e-4},{"t":69.0,"v":1.02e-4},{"t":74.4,"v":1.02e-4},{"t":79.3,"v":1.02e-4},{"t":80.3,"v":1.02e-4},{"t":85.0,"v":1.02e-4},{"t":87.0,"v":1.02e-4},{"t":89.3,"v":1.02e-4},{"t":91.6,"v":1.02e-4},{"t":92.7,"v":1.02e-4}
 ]
},
"encoding": {
 "x": {"field": "t", "type": "quantitative", "scale": {"domain": [-10, 100], "nice": false, "zero": false},
  "axis": {"title": "Time, ns", "values": [-10, 0, 10, 20, 30, 40, 50, 60, 70, 80, 90, 100], "labelExpr": "datum.value % 20 == 0 ? datum.label : ''", "tickSize": {"condition": {"test": "datum.value % 20 == 0", "value": 8}, "value": 4}, "labelPadding": 5, "titlePadding": 12}},
 "y": {"field": "v", "type": "quantitative", "scale": {"type": "log", "domain": [0.0001, 1.28], "nice": false},
  "axis": {"title": "Intesity, a.u.", "values": [0.0001, 0.0002, 0.0003, 0.0004, 0.0005, 0.0006, 0.0007, 0.0008, 0.0009, 0.001, 0.002, 0.003, 0.004, 0.005, 0.006, 0.007, 0.008, 0.009, 0.01, 0.02, 0.03, 0.04, 0.05, 0.06, 0.07, 0.08, 0.09, 0.1, 0.2, 0.3, 0.4, 0.5, 0.6, 0.7, 0.8, 0.9, 1],
   "labelExpr": "datum.value == 1 ? '10⁰' : datum.value == 0.1 ? '10⁻¹' : datum.value == 0.01 ? '10⁻²' : datum.value == 0.001 ? '10⁻³' : datum.value == 0.0001 ? '10⁻⁴' : ''",
   "tickSize": {"condition": {"test": "datum.value == 1 || datum.value == 0.1 || datum.value == 0.01 || datum.value == 0.001 || datum.value == 0.0001", "value": 8}, "value": 4}, "labelPadding": 4, "titlePadding": 20}}
},
"layer": [
 {"data": {"name": "fits"}, "transform": [{"filter": "datum.k == 'b'"}],
  "mark": {"type": "line", "strokeWidth": 5, "strokeCap": "round", "strokeJoin": "round", "interpolate": "monotone"},
  "encoding": {"color": {"field": "k", "type": "nominal", "scale": {"domain": ["b", "r", "g"], "range": ["#0000FF", "#FF0000", "#008000"]},
   "legend": {"title": null, "labelExpr": "datum.label == 'b' ? 'MM-g-CN-2.5% Ag, τₘ = 8.5 ns' : datum.label == 'r' ? 'MM-g-CN, τₘ = 8.2 ns' : 'TiO₂-A, τₘ = 7.6 ns'",
    "encode": {"symbols": {"update": {"fill": {"scale": "color", "field": "value"}, "stroke": {"value": "transparent"}, "strokeWidth": {"value": 0}}}}}}}},
 {"data": {"name": "fits"}, "transform": [{"filter": "datum.k == 'r'"}],
  "mark": {"type": "line", "strokeWidth": 5, "strokeCap": "round", "strokeJoin": "round", "interpolate": "monotone"},
  "encoding": {"color": {"field": "k", "type": "nominal"}}},
 {"data": {"name": "pts"},
  "mark": {"type": "square", "size": 8, "color": "black", "opacity": 1, "filled": true}},
 {"data": {"name": "fits"}, "transform": [{"filter": "datum.k == 'g'"}],
  "mark": {"type": "line", "strokeWidth": 5, "strokeCap": "round", "strokeJoin": "round", "interpolate": "monotone"},
  "encoding": {"color": {"field": "k", "type": "nominal"}}}
]
}
